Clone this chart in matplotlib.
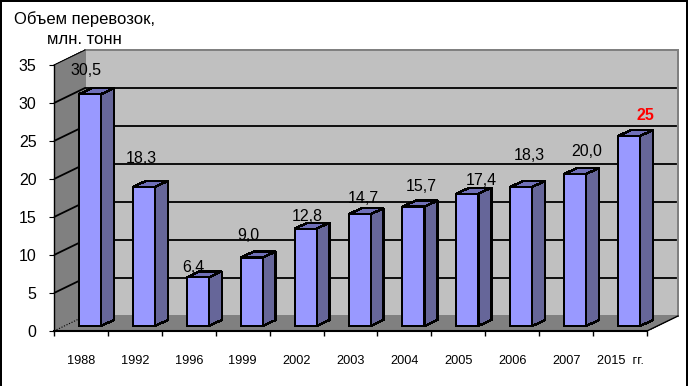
import matplotlib
matplotlib.use("Agg")
import matplotlib.pyplot as plt
from matplotlib.patches import Polygon, Rectangle

plt.rcParams['font.family'] = ['Liberation Sans', 'DejaVu Sans']

years = ['1988', '1992', '1996', '1999', '2002', '2003', '2004', '2005', '2006', '2007', '2015  гг.']
values = [30.5, 18.3, 6.4, 9.0, 12.8, 14.7, 15.7, 17.4, 18.3, 20.0, 25]
value_labels = ['30,5', '18,3', '6,4', '9,0', '12,8', '14,7', '15,7', '17,4', '18,3', '20,0', '25']
y_ticks = [0, 5, 10, 15, 20, 25, 30, 35]

# layout (pixels)
W, H = 688, 386
X0, X1, Y0, Y35 = 54, 647, 331, 65
label_gap = [18, 22, 4, 16, 6, 10, 14, 7, 25, 17, 14]
label_shift = [-4, -3, -4, -3, 2, 4, 8, 14, 8, 12, 16]

fig = plt.figure(figsize=(W / 100, H / 100), dpi=100, facecolor='white')
ax = fig.add_axes([X0 / W, 1 - Y0 / H, (X1 - X0) / W, (Y0 - Y35) / H])
ax.set_xlim(0, len(years))
ax.set_ylim(0, 35)
ax.patch.set_visible(False)

ux = (X1 - X0) / len(years)   # px per category
uy = (Y0 - Y35) / 35          # px per value unit
DX, DY = 31 / ux, 15 / uy     # wall depth
BX, BY = 9 / ux, 5 / uy       # bar shift from front plane
SX, SY = 13 / ux, 6 / uy      # bar depth
BW = 22 / ux
n = len(years)
ymax = y_ticks[-1]

def poly(pts, fc, ec='none', lw=0, z=1):
    p = Polygon(pts, closed=True, facecolor=fc, edgecolor=ec, linewidth=lw,
                zorder=z, clip_on=False, antialiased=False, joinstyle='miter')
    ax.add_patch(p)

# walls
poly([(DX, DY), (n + DX, DY), (n + DX, ymax + DY), (DX, ymax + DY)], '#C0C0C0', '#808080', 1.2, 1)
poly([(0, 0), (DX, DY), (DX, ymax + DY), (0, ymax)], '#808080', z=1)
poly([(0, 0), (n, 0), (n + DX, DY), (DX, DY)], '#808080', z=1)

# gridlines
for v in y_ticks[1:-1]:
    ax.plot([0, DX, n + DX - 0.02], [v, v + DY, v + DY], color='black', lw=1.3, zorder=2,
            clip_on=False, solid_joinstyle='miter', solid_capstyle='butt')
ax.plot([0, DX], [ymax, ymax + DY], color='black', lw=0.8, zorder=2, clip_on=False)
ax.plot([0, DX], [0, DY], color='black', lw=0.8, ls=(0, (1, 1.5)), zorder=2, clip_on=False)
ax.plot([n, n + DX], [0, DY], color='black', lw=1.0, zorder=2, clip_on=False)

# bars
for i, (v, lab) in enumerate(zip(values, value_labels)):
    z = 4 + i * 0.01
    l = i + 0.5 - BW / 2 + BX
    r = l + BW
    b = BY
    t = v + BY
    poly([(r, b), (r + SX, b + SY), (r + SX, t + SY), (r, t)], '#666699', 'black', 1.0, z)
    poly([(l, t), (r, t), (r + SX, t + SY), (l + SX, t + SY)], '#7070B8', 'black', 1.0, z)
    ax.add_patch(Rectangle((l, b), BW, v, facecolor='#9999FF', edgecolor='black', linewidth=1.4,
                           zorder=z + 0.001, clip_on=False, antialiased=False, joinstyle='miter'))
    is_last = i == n - 1
    ax.annotate(lab, xy=(i + 0.5 + BX, t + SY), xytext=(label_shift[i], label_gap[i]),
                textcoords='offset pixels', ha='center', va='center', zorder=6,
                fontsize=11.5, color='red' if is_last else 'black',
                fontweight='bold' if is_last else 'normal')

# axes
for s in ('top', 'right'):
    ax.spines[s].set_visible(False)
ax.spines['left'].set_linewidth(1)
ax.spines['bottom'].set_linewidth(1.5)
ax.spines['left'].set_zorder(3)
ax.spines['bottom'].set_zorder(3)
ax.set_yticks(y_ticks)
ax.set_yticklabels([str(v) for v in y_ticks], fontsize=11.5)
ax.tick_params(axis='y', length=3.5, width=0.8, pad=9)
ax.set_xticks(range(n + 1))
ax.set_xticklabels([])
ax.tick_params(axis='x', which='major', length=3.5, width=1)
ax.set_xticks([i + 0.5 for i in range(n)], minor=True)
ax.set_xticklabels(years, minor=True, fontsize=9.2)
ax.tick_params(axis='x', which='minor', length=0, pad=17)

# axis title
fig.text(14 / W, 1 - 19 / H, 'Объем перевозок,', fontsize=12, ha='left', va='center')
fig.text(47 / W, 1 - 40 / H, 'млн. тонн', fontsize=12, ha='left', va='center')

# outer frame
fig.add_artist(Rectangle((0, 0), 2 / W, 1, transform=fig.transFigure, facecolor='black', edgecolor='none'))
fig.add_artist(Rectangle((0, 1 - 2 / H), 1, 2 / H, transform=fig.transFigure, facecolor='black', edgecolor='none'))
fig.add_artist(Rectangle((1 - 2 / W, 0), 2 / W, 1, transform=fig.transFigure, facecolor='black', edgecolor='none'))

fig.savefig('out.png', dpi=100, facecolor='white')
